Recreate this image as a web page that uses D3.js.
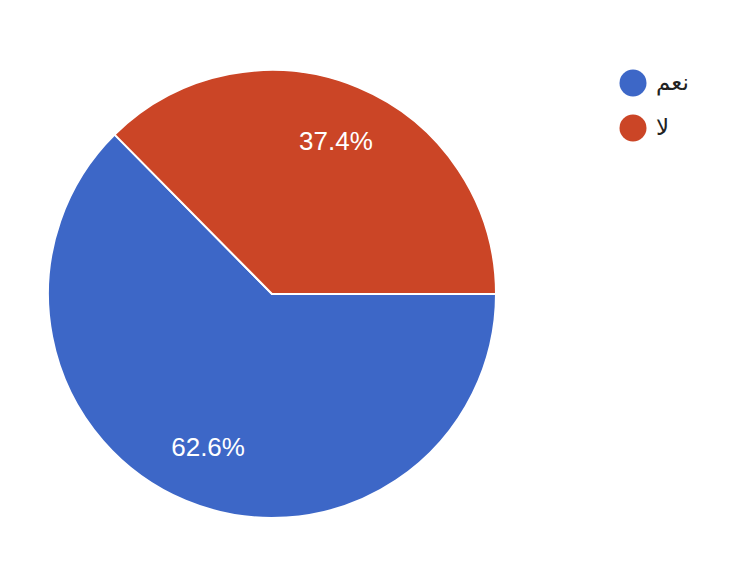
<!DOCTYPE html>
<html><head><meta charset="utf-8">
<script src="https://cdn.jsdelivr.net/npm/d3@7/dist/d3.min.js"></script>
<style>body{margin:0;background:#fff}</style>
</head><body>
<svg id="c" width="746" height="570"></svg>
<script>
const categories = ["نعم", "لا"];
const values = [62.6, 37.4];
const colors = ["#3d67c7", "#cb4526"];

const svg = d3.select("#c");
const cx = 272, cy = 294, r = 224;
const g = svg.append("g").attr("transform", `translate(${cx},${cy})`);
const pie = d3.pie().sort(null).startAngle(Math.PI/2).endAngle(Math.PI/2 + 2*Math.PI)(values);
const arc = d3.arc().innerRadius(0).outerRadius(r);
g.selectAll("path").data(pie).join("path")
  .attr("d", arc).attr("fill", (d,i)=>colors[i])
  .attr("stroke", "#fff").attr("stroke-width", 2);
const la = d3.arc().innerRadius(r*0.74).outerRadius(r*0.74);
g.selectAll("text").data(pie).join("text")
  .attr("transform", d => { const c = la.centroid(d); return `translate(${c[0]},${c[1]+9})`; })
  .attr("text-anchor", "middle")
  .attr("fill", "#fff").style("font-family", "Arial, 'Liberation Sans', sans-serif")
  .style("font-size", "26px")
  .text(d => d.data.toFixed(1) + "%");

const lg = svg.append("g");
categories.forEach((c, i) => {
  const y = 83 + i*45;
  lg.append("circle").attr("cx", 633).attr("cy", y).attr("r", 13.5).attr("fill", colors[i]);
  lg.append("text").attr("x", 656).attr("y", y + 7)
    .attr("text-anchor", "start")
    .style("font-family", "'DejaVu Sans', sans-serif").style("font-size", "23px")
    .attr("fill", "#222").text(c);
});
</script>
</body></html>
